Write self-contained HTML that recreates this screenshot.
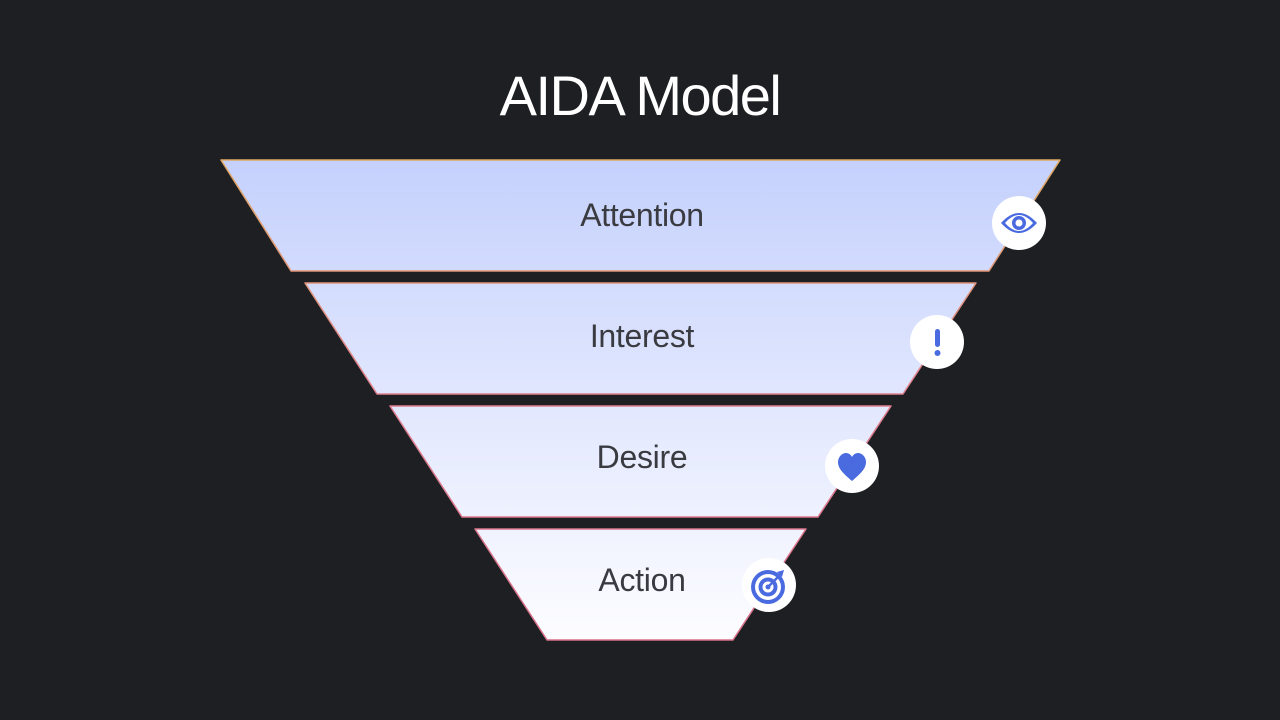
<!DOCTYPE html>
<html><head><meta charset="utf-8"><style>
html,body{margin:0;padding:0;background:#1e1f23;}
svg{display:block}
</style></head><body>
<svg width="1280" height="720" viewBox="0 0 1280 720" xmlns="http://www.w3.org/2000/svg">
<defs>
<linearGradient id="f" gradientUnits="userSpaceOnUse" x1="0" y1="160" x2="0" y2="640">
<stop offset="0" stop-color="#c5d1fd"/><stop offset="1" stop-color="#fdfdff"/>
</linearGradient>
<linearGradient id="s" gradientUnits="userSpaceOnUse" x1="0" y1="160" x2="0" y2="640">
<stop offset="0" stop-color="#e0a860"/><stop offset="0.5" stop-color="#e07f90"/><stop offset="1" stop-color="#d8708a"/>
</linearGradient>
</defs>
<rect width="1280" height="720" fill="#1e1f23"/>
<text x="640" y="115" text-anchor="middle" font-family="Liberation Sans, sans-serif" font-size="56" fill="#fff" letter-spacing="-1.5">AIDA Model</text>
<g fill="url(#f)" stroke="url(#s)" stroke-width="1.5" stroke-linejoin="round">
<path d="M221 160 L1060 160 L989 271 L291 271 Z"/>
<path d="M305 283 L976 283 L903 394 L377 394 Z"/>
<path d="M390 406 L891 406 L818 517 L462 517 Z"/>
<path d="M475 529 L806 529 L733 640 L547 640 Z"/>
</g>
<g font-family="Liberation Sans, sans-serif" font-size="32" fill="#3a3b40" text-anchor="middle" letter-spacing="-0.3">
<text x="642" y="226">Attention</text>
<text x="642" y="347">Interest</text>
<text x="642" y="468">Desire</text>
<text x="642" y="591">Action</text>
</g>
<g fill="#fff">
<circle cx="1019" cy="223" r="27"/>
<circle cx="937" cy="342" r="27"/>
<circle cx="852" cy="466" r="27"/>
<circle cx="769" cy="585" r="27"/>
</g>
<g fill="#4a6be0" stroke="none">
<path d="M1001 223 Q1019 203 1037 223 Q1019 243 1001 223 Z M1005 223 Q1019 239 1033 223 Q1019 207 1005 223 Z" fill-rule="evenodd"/>
<circle cx="1019" cy="223" r="7"/>
<circle cx="1019" cy="223" r="3.5" fill="#fff"/>
<rect x="935" y="329" width="5" height="18" rx="2.5"/>
<circle cx="937.5" cy="353" r="3"/>
<path d="M852 481 C844 474 838 469 838 462 C838 457 842 453 846 453 C849 453 851 455 852 457 C853 455 855 453 858 453 C862 453 866 457 866 462 C866 469 860 474 852 481 Z"/>
<circle cx="768" cy="587" r="17"/>
<circle cx="768" cy="587" r="13" fill="#fff"/>
<circle cx="768" cy="587" r="9.5"/>
<circle cx="768" cy="587" r="5.5" fill="#fff"/>
<circle cx="768" cy="587" r="2.5"/>
<path d="M768 587 L780 575" stroke="#4a6be0" stroke-width="2.5"/>
<path d="M777 572 L784 570 L782 577 Z"/>
</g>
</svg>
</body></html>
